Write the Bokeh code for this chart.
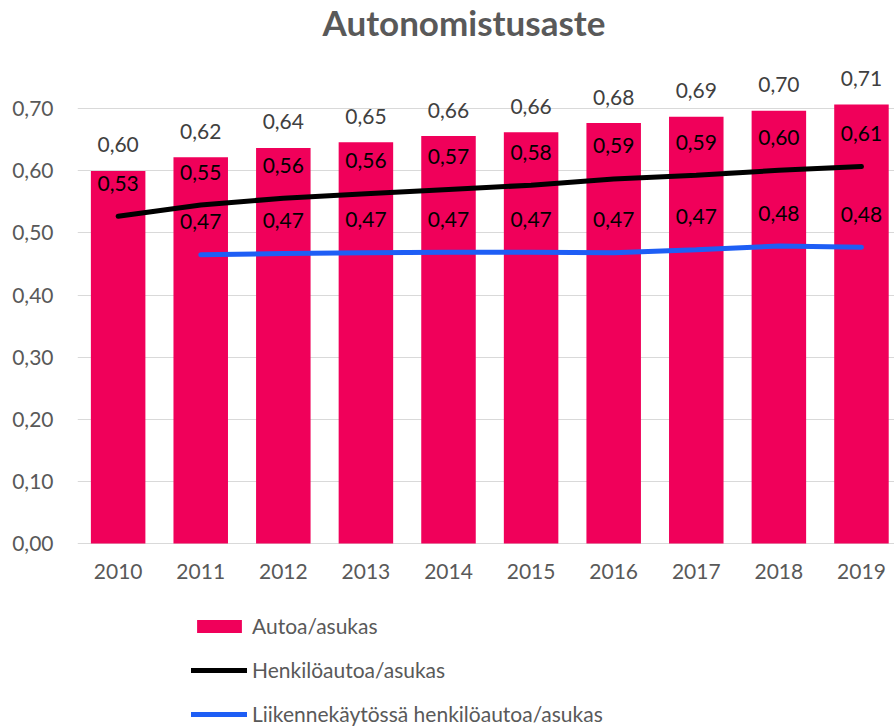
from bokeh.plotting import figure
from bokeh.models import (ColumnDataSource, FixedTicker, CustomJSTickFormatter,
                          Legend, LegendItem, Range1d)
from bokeh.core.properties import value
from bokeh.embed import file_html
from bokeh.resources import INLINE

# ---- data ----
years = [2010, 2011, 2012, 2013, 2014, 2015, 2016, 2017, 2018, 2019]
autoa_asukas = [0.600, 0.622, 0.637, 0.646, 0.656, 0.662, 0.677, 0.687, 0.697, 0.707]
henkiloautoa_asukas = [0.527, 0.545, 0.556, 0.563, 0.570, 0.577, 0.587, 0.593, 0.601, 0.607]
liikenne_years = [2011, 2012, 2013, 2014, 2015, 2016, 2017, 2018, 2019]
liikenne_asukas = [0.465, 0.467, 0.468, 0.469, 0.469, 0.468, 0.473, 0.479, 0.477]
y_ticks = [0.0, 0.1, 0.2, 0.3, 0.4, 0.5, 0.6, 0.7]

title_text = "Autonomistusaste"
series_names = ["Autoa/asukas", "Henkilöautoa/asukas", "Liikennekäytössä henkilöautoa/asukas"]

FONT = "Lato"
GRAY = "#595959"
BAR_COLOR = "#f0005a"
BLUE = "#1e5ef5"


def fmt(v):
    return f"{v:.2f}".replace(".", ",")


bar_src = ColumnDataSource(dict(x=years, y=autoa_asukas, lbl=[fmt(v) for v in autoa_asukas]))
blk_src = ColumnDataSource(dict(x=years, y=henkiloautoa_asukas, lbl=[fmt(v) for v in henkiloautoa_asukas]))
blu_src = ColumnDataSource(dict(x=liikenne_years, y=liikenne_asukas, lbl=[fmt(v) for v in liikenne_asukas]))

# frame spans ~44..726 px vertically; value 0 sits at 543 px (62.1 px per 0.1)
p = figure(width=894, height=726, output_backend="svg", toolbar_location=None,
           x_range=Range1d(2009.508, 2019.4), y_range=Range1d(-0.2947, 0.8035),
           min_border_left=77, min_border_right=0, min_border_top=0, min_border_bottom=0)

p.title.text = title_text
p.title.text_font = FONT
p.title.text_font_style = "bold"
p.title.text_font_size = "35px"
p.title.text_color = GRAY
p.title.align = "left"
p.title.vertical_align = "top"
p.title.offset = 245
p.title.standoff = 0

p.outline_line_color = None
p.background_fill_color = "white"
p.border_fill_color = "white"

bars = p.vbar(x="x", top="y", bottom=0, width=0.66, source=bar_src, fill_color=BAR_COLOR, line_color=None)
blk = p.line(x="x", y="y", source=blk_src, line_color="black", line_width=5, line_cap="round")
blu = p.line(x="x", y="y", source=blu_src, line_color=BLUE, line_width=5, line_cap="round")

p.text(x="x", y="y", text="lbl", source=bar_src, text_font=value(FONT), text_font_size="21px",
       text_color="#404040", text_align="center", text_baseline="alphabetic", y_offset=-26)
p.text(x="x", y="y", text="lbl", source=blk_src, text_font=value(FONT), text_font_size="21px",
       text_color="black", text_align="center", text_baseline="alphabetic", y_offset=-33)
p.text(x="x", y="y", text="lbl", source=blu_src, text_font=value(FONT), text_font_size="21px",
       text_color="black", text_align="center", text_baseline="alphabetic", y_offset=-33)

# axes
p.xgrid.grid_line_color = None
p.ygrid.grid_line_color = "#d9d9d9"
p.ygrid.grid_line_width = 1

p.yaxis.ticker = FixedTicker(ticks=y_ticks)
p.yaxis.formatter = CustomJSTickFormatter(code="return tick.toFixed(2).replace('.', ',');")
p.xaxis.ticker = FixedTicker(ticks=years)
p.xaxis.formatter = CustomJSTickFormatter(code="return tick.toFixed(0);")
p.xaxis.fixed_location = 0
for ax in (p.xaxis[0], p.yaxis[0]):
    ax.axis_line_color = None
    ax.major_tick_line_color = None
    ax.minor_tick_line_color = None
    ax.major_tick_out = 0
    ax.major_tick_in = 0
    ax.major_label_text_font = FONT
    ax.major_label_text_font_size = "21px"
    ax.major_label_text_color = GRAY
p.yaxis.major_label_standoff = 24
p.xaxis.major_label_standoff = 21

legend = Legend(items=[LegendItem(label=series_names[0], renderers=[bars]),
                       LegendItem(label=series_names[1], renderers=[blk]),
                       LegendItem(label=series_names[2], renderers=[blu])],
                location=(114, 0), orientation="vertical",
                padding=0, margin=0, spacing=19,
                glyph_width=56, glyph_height=16, label_height=16, label_standoff=5,
                label_text_font=FONT, label_text_font_size="21px", label_text_color=GRAY,
                background_fill_alpha=0, border_line_color=None)
p.add_layout(legend, "center")

open("out.html", "w").write(file_html(p, INLINE))
